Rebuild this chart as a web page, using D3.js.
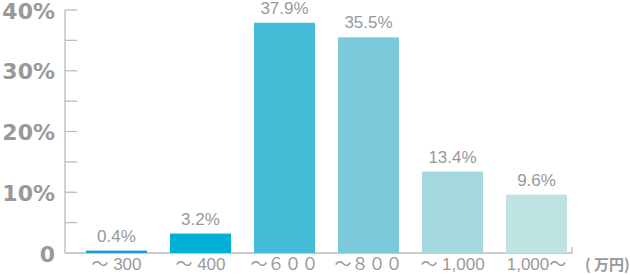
<!DOCTYPE html>
<html lang="ja">
<head>
    <meta charset="UTF-8">
    <title>chart</title>
    <style>
        html, body {
            margin: 0;
            padding: 0;
            background: #fff;
        }
        svg {
            display: block;
        }
    </style>
</head>
<body>
    <div id="chart"></div>

    <script src="https://d3js.org/d3.v7.min.js"></script>
    <script>
        const categories = ['～ 300', '～ 400', '～６００', '～８００', '～ 1,000', '1,000～']
        const values = [0.4, 3.2, 37.9, 35.5, 13.4, 9.6]
        const barColors = ['#1aa0d6', '#00b1d5', '#44bcd8', '#7bc9da', '#a3d8de', '#bfe3e0']
        const yTicks = [0, 10, 20, 30, 40]
        const yTickLabels = ['0', '10%', '20%', '30%', '40%']
        const unitLabel = '( 万円)'

        const width = 630
        const height = 275
        const textColor = '#999'
        const lineColor = '#bbb'
        const axisX = 65
        const axisEnd = 572

        const svg = d3.select('#chart')
            .append('svg')
            .attr('width', width)
            .attr('height', height)

        const x = d3.scaleBand()
            .domain(categories)
            .range([77, 576])
            .paddingInner(0.274)
            .paddingOuter(0.107)

        const y = d3.scaleLinear()
            .domain([0, 40])
            .range([253, 10])

        // 目盛り（5%刻みの短い線）
        const grid = svg.append('g')
            .attr('stroke', lineColor)
            .attr('stroke-width', 1.3)
        grid.selectAll('line.tick')
            .data(d3.range(5, 41, 5))
            .enter()
            .append('line')
            .attr('class', 'tick')
            .attr('x1', axisX)
            .attr('x2', axisX + 12)
            .attr('y1', d => y(d))
            .attr('y2', d => y(d))
        grid.append('line')
            .attr('x1', axisX)
            .attr('x2', axisX)
            .attr('y1', y(40))
            .attr('y2', y(0))
        grid.append('path')
            .attr('fill', 'none')
            .attr('d', `M${axisX},${y(0)} H${axisEnd} V${y(0) - 6}`)

        // y軸ラベル
        svg.append('g')
            .attr('text-anchor', 'end')
            .attr('fill', textColor)
            .style('font-family', '"DejaVu Sans", Verdana, sans-serif')
            .style('font-weight', 'bold')
            .style('font-size', '22px')
            .selectAll('text')
            .data(yTicks)
            .enter()
            .append('text')
            .attr('x', 55)
            .attr('y', d => y(d) + 8.5)
            .text((d, i) => yTickLabels[i])

        // 棒
        svg.append('g')
            .selectAll('rect')
            .data(values)
            .enter()
            .append('rect')
            .attr('x', (d, i) => x(categories[i]))
            .attr('width', x.bandwidth())
            .attr('y', d => y(d))
            .attr('height', d => y(0) - y(d))
            .attr('fill', (d, i) => barColors[i])

        // 値ラベル
        svg.append('g')
            .attr('text-anchor', 'middle')
            .attr('fill', textColor)
            .style('font-family', 'Arial, "Liberation Sans", sans-serif')
            .style('font-size', '17px')
            .selectAll('text')
            .data(values)
            .enter()
            .append('text')
            .attr('x', (d, i) => x(categories[i]) + x.bandwidth() / 2)
            .attr('y', d => y(d) - 9)
            .text(d => d.toFixed(1) + '%')

        // x軸ラベル
        svg.append('g')
            .attr('text-anchor', 'middle')
            .attr('fill', textColor)
            .style('font-family', 'Arial, "Liberation Sans", "Noto Sans CJK JP", sans-serif')
            .style('font-size', '17px')
            .selectAll('text')
            .data(categories)
            .enter()
            .append('text')
            .attr('x', d => x(d) + x.bandwidth() / 2)
            .attr('y', 270)
            .text(d => d)

        svg.append('text')
            .attr('x', 585)
            .attr('y', 270)
            .attr('fill', textColor)
            .style('font-family', '"Noto Sans CJK JP", sans-serif')
            .style('font-weight', 'bold')
            .style('font-size', '15px')
            .text(unitLabel)
    </script>
</body>
</html>
